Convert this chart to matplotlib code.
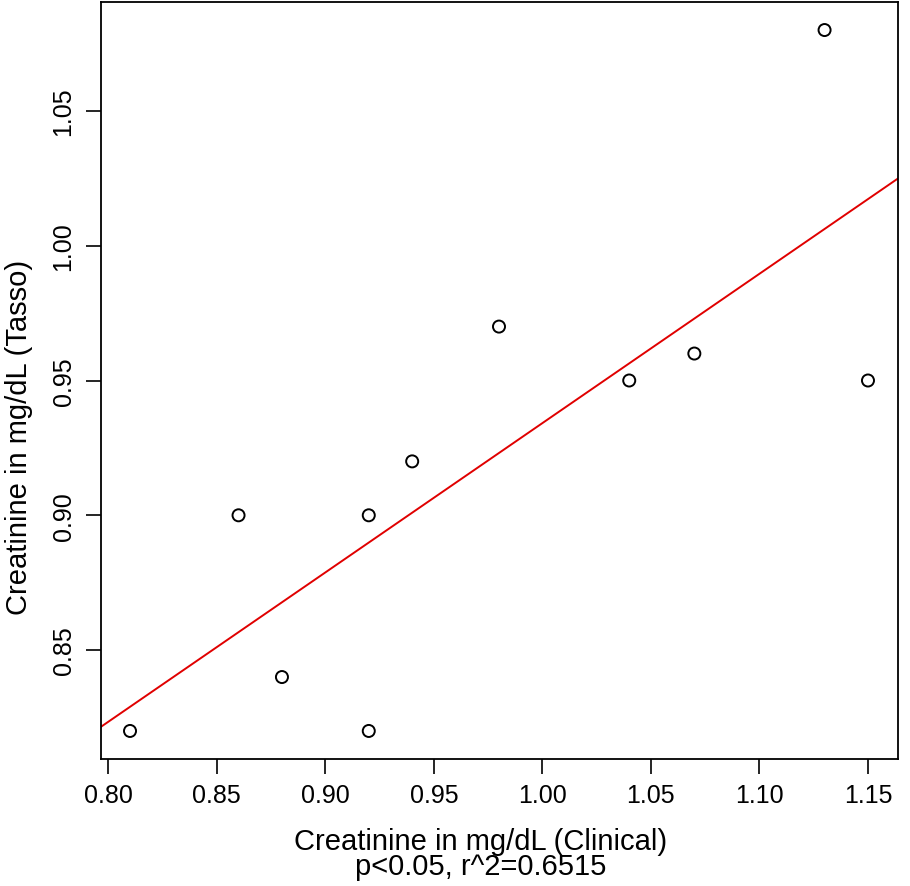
import matplotlib
matplotlib.use("Agg")
import matplotlib.pyplot as plt
import numpy as np

plt.rcParams['font.family'] = ['Liberation Sans', 'DejaVu Sans']

#----------Data-------------
clinical = [0.81, 0.86, 0.88, 0.92, 0.92, 0.94, 0.98, 1.04, 1.07, 1.13, 1.15]
tasso = [0.82, 0.90, 0.84, 0.90, 0.82, 0.92, 0.97, 0.95, 0.96, 1.08, 0.95]
x_ticks = [0.80, 0.85, 0.90, 0.95, 1.00, 1.05, 1.10, 1.15]
y_ticks = [0.85, 0.90, 0.95, 1.00, 1.05]

x = np.array(clinical)
y = np.array(tasso)

# R style axis range: data range padded by 4%
def r_lim(v):
    pad = 0.04 * (v.max() - v.min())
    return v.min() - pad, v.max() + pad

W, H = 910, 887
fig = plt.figure(figsize=(W / 100, H / 100), dpi=100)
ax = fig.add_axes([100.5 / W, 1 - 760 / H, 797 / W, 757 / H])

ax.scatter(x, y, s=75, facecolors='none', edgecolors='black', linewidths=1.4,
           zorder=3)

slope, intercept = np.polyfit(x, y, 1)
xl = r_lim(x)
yl = r_lim(y)
xx = np.array(xl)
ax.plot(xx, slope * xx + intercept, color='#e00000', lw=1.4, zorder=2)

ax.set_xlim(xl)
ax.set_ylim(yl)
ax.set_xticks(x_ticks)
ax.set_xticklabels(["%.2f" % t for t in x_ticks])
ax.set_yticks(y_ticks)
ax.set_yticklabels(["%.2f" % t for t in y_ticks], rotation=90, va='center')
ax.tick_params(length=11, width=1.2, labelsize=18, color='black')
ax.tick_params(axis='x', pad=6)
ax.tick_params(axis='y', pad=7)
for s in ax.spines.values():
    s.set_linewidth(1.3)

# x label and fit stats as one two-line text
fig.text(481 / W, 1 - 875 / H,
         "Creatinine in mg/dL (Clinical)\np<0.05, r^2=0.6515", fontsize=21,
         ha='center', va='baseline', multialignment='center', linespacing=0.88)
fig.text(27 / W, 1 - 615 / H, "Creatinine in mg/dL (Tasso)", fontsize=21,
         rotation=90, rotation_mode='anchor', ha='left', va='baseline')

fig.savefig("out.png", dpi=100)
